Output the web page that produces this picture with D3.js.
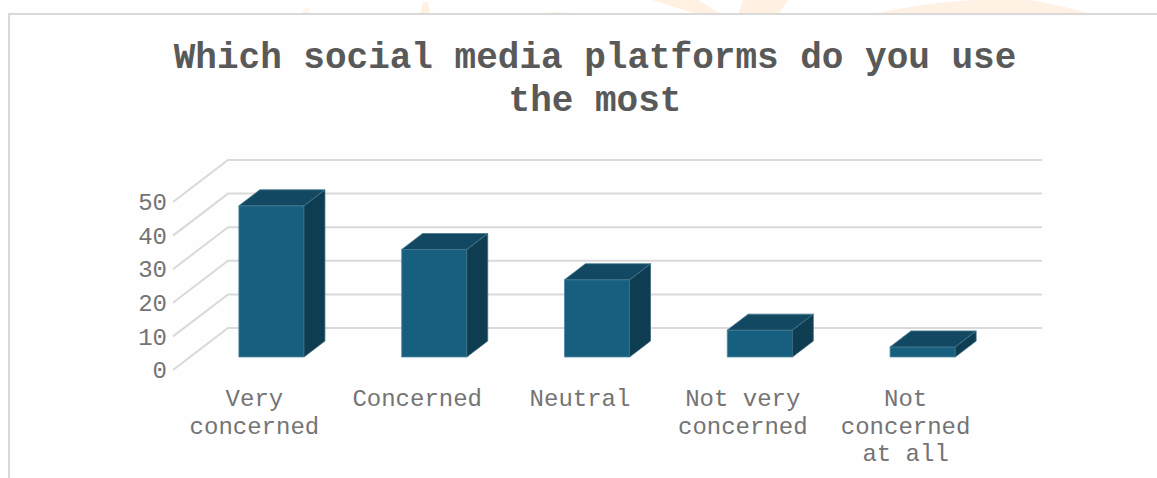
<!DOCTYPE html>
<html>
<head>
<meta charset="utf-8">
<script src="https://cdn.jsdelivr.net/npm/d3@7"></script>
<style>
  html, body { margin: 0; padding: 0; background: #ffffff; }
  svg { display: block; }
</style>
</head>
<body>
<svg id="chart" width="1157" height="478"></svg>
<script>
// Survey answers and counts
const categories = ["Very concerned", "Concerned", "Neutral", "Not very concerned", "Not concerned at all"];
const categoryLines = [["Very", "concerned"], ["Concerned"], ["Neutral"], ["Not very", "concerned"], ["Not", "concerned", "at all"]];
const values = [45, 32, 23, 8, 3];
const yTicks = [0, 10, 20, 30, 40, 50];
const titleLines = ["Which social media platforms do you use", "the most"];

const svg = d3.select("#chart");
const W = 1157, H = 478;

// faint background emblem peeking above the chart frame
const deco = svg.append("g");
deco.append("path").attr("d", "M652,0 L698,0 L722,15 L700,15 Z").attr("fill", "#fff0e2");
deco.append("path").attr("d", "M743,0 L788,0 L778,15 L738,15 Z").attr("fill", "#fff0e2");
deco.append("path").attr("d", "M866,15 Q930,2 975,0 L1000,0 Q1010,0 1012,0 L1030,0 Q1065,6 1094,15 Z").attr("fill", "#fff1e4");
deco.append("path").attr("d", "M420,15 L423,2 L428,2 L430,15 Z").attr("fill", "#fff0e0");
deco.append("path").attr("d", "M536,15 Q556,9 580,15 Z").attr("fill", "#fbf6e2");
deco.append("path").attr("d", "M301,15 L305,8 L309,8 L309,15 Z").attr("fill", "#fff5ea");

// chart frame (left and top edges visible)
svg.append("rect").attr("x", 9).attr("y", 14).attr("width", W + 40).attr("height", H)
  .attr("fill", "#fefefe").attr("stroke", "#d9d9d9").attr("stroke-width", 2);

// title
const title = svg.append("text")
  .attr("text-anchor", "middle")
  .attr("font-family", "'Liberation Mono', 'Courier New', monospace")
  .attr("font-weight", "bold")
  .attr("font-size", 36)
  .attr("fill", "#595959");
titleLines.forEach((t, i) => {
  title.append("tspan").attr("x", 595).attr("y", 68 + i * 43).text(t);
});

// 3D plot geometry: front-left floor corner and the full-depth offset
const X0 = 173, Y0 = 370;
const depthX = 55, depthY = -42;
const plotW = 814;

const x = d3.scaleBand().domain(categories).range([0, plotW]).padding(0);
const y = d3.scaleLinear().domain([0, 50]).range([0, 168]);

// project (horizontal offset, value, depth fraction) to screen
function proj(px, v, f) {
  return [X0 + px + depthX * f, Y0 - y(v) + depthY * f];
}

// gridlines: left-wall diagonals and back-wall horizontals
const grid = svg.append("g").attr("stroke", "#d9d9d9").attr("stroke-width", 2).attr("fill", "none");
yTicks.forEach(v => {
  const a = proj(0, v, 0), b = proj(0, v, 1), c = proj(plotW, v, 1);
  grid.append("path").attr("d", d3.line()([a, b, c]));
});

// value axis labels on the front plane
const yAxisScale = d3.scaleLinear().domain([0, 50]).range([Y0, Y0 - y(50)]);
const yAxis = svg.append("g")
  .attr("transform", `translate(${X0},0)`)
  .call(d3.axisLeft(yAxisScale).tickValues(yTicks).tickSize(0).tickPadding(6));
yAxis.select(".domain").remove();
yAxis.selectAll("text")
  .attr("font-family", "'Liberation Mono', 'Courier New', monospace")
  .attr("font-size", 24)
  .attr("fill", "#747474");

// bars
const f1 = 0.31, f2 = 0.69;
const barFrac = 0.4;
const bars = svg.append("g");
categories.forEach((c, i) => {
  const v = values[i];
  const bw = x.bandwidth() * barFrac;
  const xl = x(c) + (x.bandwidth() - bw) / 2;
  const xr = xl + bw;
  const g = bars.append("g").attr("stroke-width", 0.8).attr("stroke-linejoin", "round");
  const line = d3.line();
  // front face
  g.append("path")
    .attr("d", line([proj(xl, 0, f1), proj(xr, 0, f1), proj(xr, v, f1), proj(xl, v, f1)]) + "Z")
    .attr("fill", "#175f7e").attr("stroke", "#4d86a0");
  // right side
  g.append("path")
    .attr("d", line([proj(xr, 0, f1), proj(xr, 0, f2), proj(xr, v, f2), proj(xr, v, f1)]) + "Z")
    .attr("fill", "#0e3c50").attr("stroke", "#3d6a7e");
  // top
  g.append("path")
    .attr("d", line([proj(xl, v, f1), proj(xr, v, f1), proj(xr, v, f2), proj(xl, v, f2)]) + "Z")
    .attr("fill", "#124861").attr("stroke", "#467890");
});

// category labels along the front edge
const xLabels = svg.append("g")
  .attr("font-family", "'Liberation Mono', 'Courier New', monospace")
  .attr("font-size", 24)
  .attr("fill", "#747474")
  .attr("text-anchor", "middle");
categories.forEach((c, i) => {
  const cx = X0 + x(c) + x.bandwidth() / 2;
  const t = xLabels.append("text");
  categoryLines[i].forEach((ln, k) => {
    t.append("tspan").attr("x", cx).attr("y", 406 + k * 27.6).text(ln);
  });
});
</script>
</body>
</html>
